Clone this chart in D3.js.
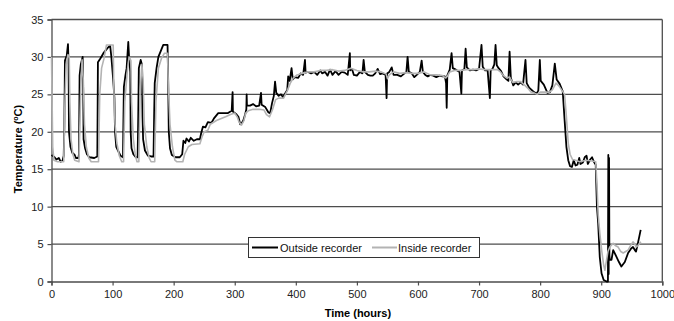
<!DOCTYPE html>
<html>
<head>
<meta charset="utf-8">
<script src="https://cdn.jsdelivr.net/npm/d3@7"></script>
<style>
  html, body { margin: 0; padding: 0; background: #fff; }
  svg { display: block; font-family: "Liberation Sans", Arial, sans-serif; }
</style>
</head>
<body>
<svg id="chart" width="674" height="321"></svg>
<script>
// ---- data ----
const xTicks = [0, 100, 200, 300, 400, 500, 600, 700, 800, 900, 1000];
const yTicks = [0, 5, 10, 15, 20, 25, 30, 35];
const seriesNames = ["Outside recorder", "Inside recorder"];

const outsideHours = [0,5,8,12,15,18,20,21,22,25,27,28,28.6,31,34,38,40,44,45,46,48,51,52,52.5,55,58,62,70,75,75.6,76,80,85,90,93,96,98,101,103,104,106,110,113,117,117.5,118.5,121,123,125.7,127,129,129.6,131,134,138,141,142,143,146,148,149,150,153,158,163,167,168,169,172,175,180,183,190,191,192,194,197,203,210,214,216,219,221,225,228,233,238,243,245,248,252,256,262,266,273,280,289,295,296.5,297,300,303,306,309,311,314,317,319,319.5,320,325,330,335,340,343,344,350,355,358,361,364,366,368,372,376,379,383,386,387.5,390,393,395,398,404,408,412,415,416,420,425,430,435,440,443,448,452,456,460,465,470,475,480,485,488.5,489,492,495,500,505,509,511,513,518,522,526,530,534,538,542,547,548.6,549.5,553,557,560,566,572,578,581,583,585,590,594,598,603,606,608,612,616,620,625,630,635,640,644,646,647,648,652,655,657,662,668,671,672,676,678,680,685,690,695,700,704,706,710,714,717.7,719,722,725,727,729,732,736,740,745,748,750,752,756,760,764,768,772,776,778,782,786,790,794,797,799.5,801,806,812,816,820,824,827,832,837,840,843,846,849,852,855,858,861,864,866,870,873,876,878,882,885,888,891,893,895,897.6,900.5,904,908.7,911,911.6,912.2,912.8,913.4,914,916.8,919.6,925,929,933,938.6,944,949,952,955,957,960,964.6];
const outsideTemp = [16.9,16.6,16.3,16.5,16.0,16.1,16.8,20.5,29.5,30.2,31.7,29,20,18,17.2,16.9,16.5,16.5,17,27.5,29,30,25,19,17.8,17.0,16.6,16.5,16.7,24,29.3,29.8,30.5,31,31.3,31.5,30,27,24.5,20,18,17.3,16.8,16.6,20,26,27.5,28.5,32,30,28,20,17.8,17,16.6,16.6,22,28.5,29.6,29,22,19,17.5,16.8,16.7,16.7,22,26.5,28.5,30,31,31.6,31.6,27,20,17.8,16.9,16.6,16.6,17,18.8,18.5,19.1,18.7,19.2,18.8,19,19,19.8,20.7,20.6,21.3,21.2,21.8,22.5,22.5,22.5,22.8,25.3,22.7,22.5,22.3,22,21,21.1,21.5,22.3,23,25,23.5,23.5,23.7,23.4,23.5,25.2,23.6,23.3,22.6,22.5,23.8,24.8,26.7,25.2,24.8,25,24.6,25.2,25.6,27.4,26.8,28.5,27,27.3,27.2,27.8,27.6,29.6,27.9,28,27.8,28,27.6,28.2,27.8,28.0,27.5,28.3,27.6,28.1,27.6,28.0,27.9,27.6,30.5,28.2,28.4,27.6,27.5,28,27.8,29.6,28,27.6,27.5,27.5,27.8,28.4,27.7,27.8,27.6,24.5,27.8,28,28.6,27.6,27.6,27.4,27.8,28,30,28,27.8,27.3,27.6,28,29.5,28,27.6,27.4,27.6,27.5,27.3,27.5,27.4,27.4,26.5,23.2,27.5,28.3,30.5,28.5,28.3,28,25.1,28.2,28.4,31.1,28.6,28.2,28.3,28.2,28.4,31.6,28.7,28.2,28.2,24.5,28.2,28.4,29,31.6,28.9,28.5,28.1,27.4,27,26.8,30.7,27.2,26.2,26.6,26.3,26.6,26.3,29.6,26.5,25.9,25.6,25.3,25.1,25.5,29.6,26.8,26.3,25.2,25.3,26.2,29.1,27,26.4,25.4,21.6,18,16.2,15.4,15.3,16.2,15.5,15.6,16.5,15.7,15.9,16.6,16.8,15.7,16.3,16.6,16.0,15.6,10,7.8,3.3,1.1,0.2,0,0,16.9,1,16.5,3.5,2.9,2.9,4.2,3.3,2.6,2.0,2.6,3.8,4.4,4.6,4.2,4.0,5.1,6.9];

const insideHours = [0,2,4,10,20,22,24,27,29,30,32,35,38,45,48,50,52,54,57,61,65,77,79,82,86,90,101,102,104,107,111,115,118,120,124,127,130,131,134,137,140,143,145,148,150,152,156,160,163,169,171,175,180,185,190,191,194,198,202,205,215,218,224,230,243,246,250,256,260,270,285,293,300,304,307,311,315,318,322,330,340,348,352,357,362,367,372,380,386,391,396,402,410,420,430,440,450,460,470,480,490,500,510,520,530,540,548,550,553,560,570,580,590,600,610,620,630,640,645,648,652,660,670,680,690,700,710,720,730,735,740,745,750,755,762,768,775,780,785,790,795,800,808,815,820,826,830,836,840,843,846,849,853,858,865,875,885,891,893,895,897.6,901,904,906,908,911,914,919.6,923,927.7,932,936,940,944,948,952,955,957,960,963,965];
const insideTemp = [30,18,16.2,16,16,24,29,30.3,30,24,19,17,16.2,16,26,29.6,27,21,18,16.5,16,16,25,28.5,29.8,31.6,31.6,26,21,18.5,16.8,16,16,24,28,30,29.5,24,19,17,16,16,25,29,27,21,18,16.5,16,16,24,28.5,29.8,30.5,30.5,27,21,18,16.2,16,16,17,18,18.3,18.4,19.2,20,20.2,21,21.5,22,22.3,22.5,22,21.3,20.9,21.5,22.5,22.8,23,23,22.9,22.3,22,23,24.3,24.5,24.5,25.5,26.5,27.2,27.6,27.8,28,28,28.2,28.2,28.3,28.1,28.2,28.5,28.2,28,28,28.1,28,27.7,27.1,27.6,28,27.8,27.9,27.8,27.8,28,27.6,27.6,27.5,27.2,27.4,28,28.2,28.2,28.3,28.3,28.4,28.3,28.3,28.3,28,27.5,27.2,27.3,26.6,26.7,26.7,26.2,25.8,25.3,25.2,25,25.3,25.3,25.3,25.6,26.5,26.2,25.5,25,22,18.5,17,16.3,16.2,16,16.2,16.1,16,13,9,6.5,4,2.2,1.5,2.5,4,4.6,5.1,4.8,4.6,4.0,3.8,4.0,4.2,4.8,5.3,5.0,4.6,4.8,5.1,5.3];

if (outsideHours.length !== outsideTemp.length || insideHours.length !== insideTemp.length) {
  throw new Error(`length mismatch out ${outsideHours.length}/${outsideTemp.length} in ${insideHours.length}/${insideTemp.length}`);
}

// ---- layout ----
const W = 674, H = 321;
const mLeft = 51.5, mRight = 662.3, mTop = 19.5, mBottom = 281.5;
const svg = d3.select("#chart");

const x = d3.scaleLinear().domain([0, 1000]).range([mLeft, mRight]);
const y = d3.scaleLinear().domain([0, 35]).range([mBottom, mTop]);

const gridColor = "#4d4d4d";

// gridlines
svg.append("g").selectAll("line").data(yTicks.filter(d => d > 0)).join("line")
  .attr("x1", mLeft).attr("x2", mRight)
  .attr("y1", d => y(d)).attr("y2", d => y(d))
  .attr("stroke", gridColor).attr("stroke-width", 1.3);

// right border
svg.append("line").attr("x1", mRight).attr("x2", mRight).attr("y1", mTop).attr("y2", mBottom)
  .attr("stroke", gridColor).attr("stroke-width", 1.3);

// axes
const yAxis = svg.append("g").attr("transform", `translate(${mLeft},0)`)
  .call(d3.axisLeft(y).tickValues(yTicks).tickSize(4).tickPadding(4).tickFormat(d3.format("d")));
const xAxis = svg.append("g").attr("transform", `translate(0,${mBottom})`)
  .call(d3.axisBottom(x).tickValues(xTicks).tickSize(4).tickPadding(5).tickFormat(d3.format("d")));
[yAxis, xAxis].forEach(g => {
  g.select(".domain").attr("stroke", gridColor).attr("stroke-width", 1.3);
  g.selectAll(".tick line").attr("stroke", gridColor).attr("stroke-width", 1.2);
  g.selectAll("text").attr("font-size", 11).attr("fill", "#222")
    .attr("font-family", "Liberation Sans, Arial, sans-serif");
});

// lines
const lineGen = d3.line().x(d => x(d[0])).y(d => y(d[1]));
const outside = outsideHours.map((h, i) => [h, outsideTemp[i]]);
const inside = insideHours.map((h, i) => [h, insideTemp[i]]);

svg.append("path").datum(outside).attr("d", lineGen)
  .attr("fill", "none").attr("stroke", "#000").attr("stroke-width", 1.8).attr("stroke-linejoin", "round");
svg.append("path").datum(inside).attr("d", lineGen)
  .attr("fill", "none").attr("stroke", "#b3b3b3").attr("stroke-width", 1.6).attr("stroke-linejoin", "round");

// axis titles
svg.append("text").attr("x", (mLeft + mRight) / 2 + 1).attr("y", 317)
  .attr("text-anchor", "middle").attr("font-size", 11).attr("font-weight", "bold")
  .text("Time (hours)");
const yt = svg.append("text").attr("transform", "translate(22,149) rotate(-90)")
  .attr("text-anchor", "middle").attr("font-size", 11).attr("font-weight", "bold");
yt.append("tspan").text("Temperature (");
yt.append("tspan").attr("font-size", 7).attr("dy", -4).text("o");
yt.append("tspan").attr("dy", 4).text("C)");

// legend
const lg = svg.append("g");
lg.append("rect").attr("x", 248.5).attr("y", 237.5).attr("width", 231).attr("height", 20)
  .attr("fill", "#fff").attr("stroke", "#333").attr("stroke-width", 1);
const legendItems = [
  {name: seriesNames[0], color: "#000", x0: 252, x1: 278, tx: 280},
  {name: seriesNames[1], color: "#b3b3b3", x0: 372, x1: 397, tx: 398}
];
legendItems.forEach(it => {
  lg.append("line").attr("x1", it.x0).attr("x2", it.x1).attr("y1", 247.5).attr("y2", 247.5)
    .attr("stroke", it.color).attr("stroke-width", 2);
  lg.append("text").attr("x", it.tx).attr("y", 251.5).attr("font-size", 11).attr("fill", "#111")
    .text(it.name);
});
</script>
</body>
</html>
